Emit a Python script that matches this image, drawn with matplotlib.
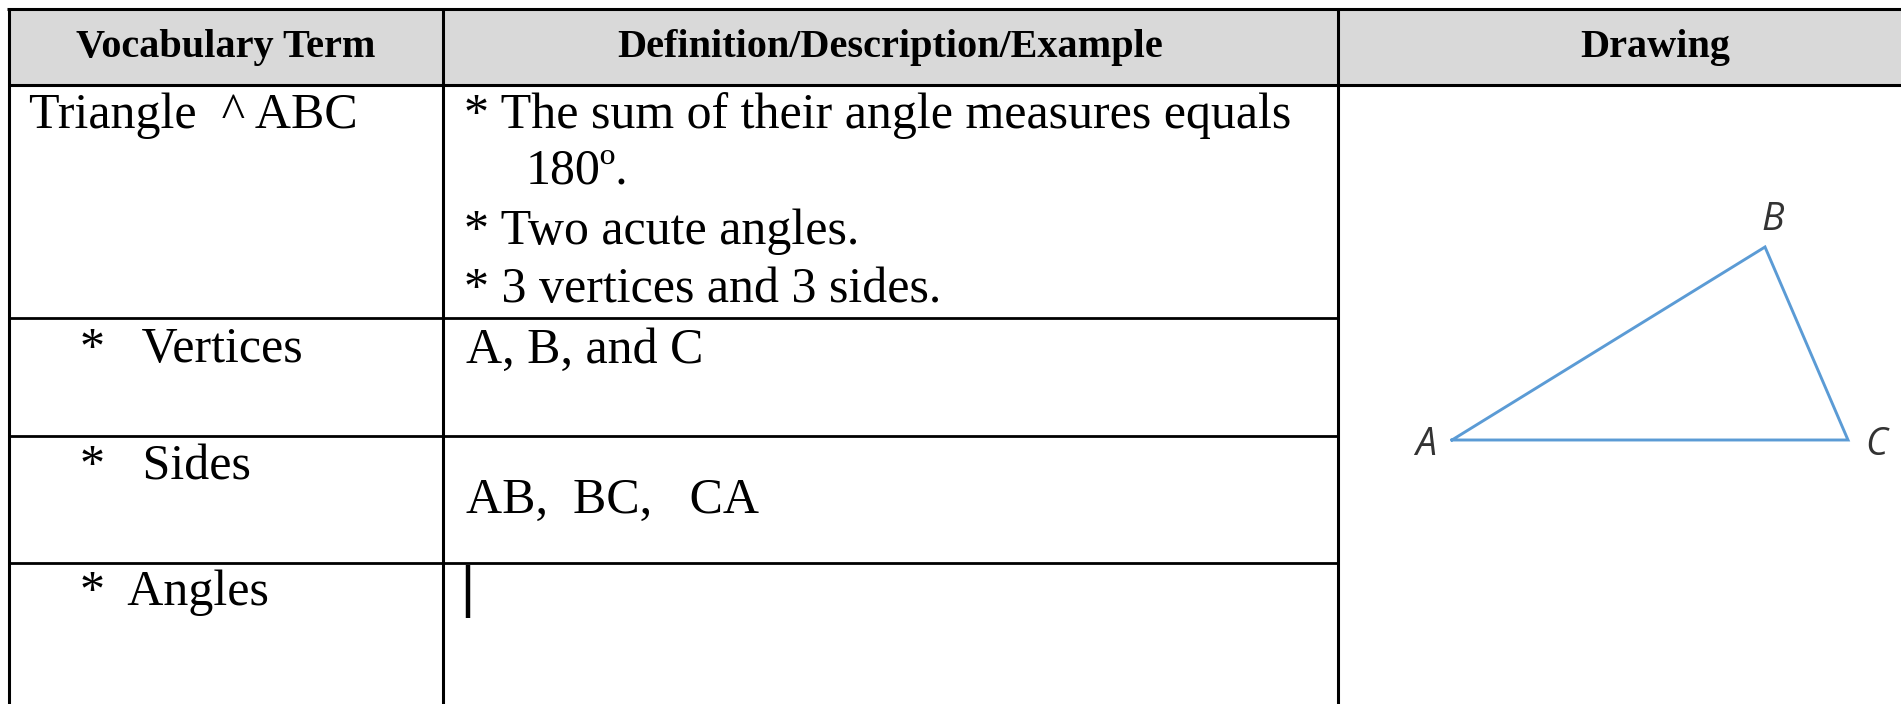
import matplotlib.pyplot as plt

# table content
headers = ["Vocabulary Term", "Definition/Description/Example", "Drawing"]
terms = ["Triangle  ^ ABC", "*   Vertices", "*   Sides", "*  Angles"]
definitions = [
    ["* The sum of their angle measures equals", "180º.",
     "* Two acute angles.", "* 3 vertices and 3 sides."],
    ["A, B, and C"],
    ["AB,  BC,   CA"],
    [],
]
# triangle drawing (pixel units of the page)
tri_names = ["A", "B", "C"]
tri_x = [1452, 1765, 1848]
tri_y = [440, 247, 440]

# layout, pixels
W, H = 1901, 704
col_edges = [8.5, 443, 1338, 1972]
row_edges = [8.5, 84.5, 318, 436, 563, 704]
header_gray = "#d9d9d9"
serif = "Liberation Serif"
body_size = 36

fig = plt.figure(figsize=(W / 100, H / 100), dpi=100)
ax = fig.add_axes([0, 0, 1, 1])
ax.set_xlim(0, W)
ax.set_ylim(H, 0)
ax.axis("off")

# header band
ax.fill_between([col_edges[0], col_edges[-1]], row_edges[0], row_edges[1],
                color=header_gray, lw=0, zorder=0)

lw_outer = 2.2
lw_inner = 2.0
ax.plot([col_edges[0] - 1.5, col_edges[-1]], [row_edges[0]] * 2, color="k",
        lw=lw_outer, solid_capstyle="butt")
ax.plot([col_edges[0], col_edges[-1]], [row_edges[1]] * 2, color="k",
        lw=lw_outer, solid_capstyle="butt")
for y in row_edges[2:-1]:
    ax.plot([col_edges[0], col_edges[2]], [y, y], color="k", lw=lw_inner,
            solid_capstyle="butt")
for x in col_edges[:3]:
    ax.plot([x, x], [row_edges[0], H], color="k", lw=lw_outer,
            solid_capstyle="butt")

# header text
for i, h in enumerate(headers):
    cx = (col_edges[i] + col_edges[i + 1]) / 2
    ax.text(cx, 57, h, ha="center", va="baseline", fontsize=29,
            fontweight="bold", family=serif)

# first column
term_x = [29, 80, 80, 80]
term_base = [128, 362, 480, 605]
for t, x, y in zip(terms, term_x, term_base):
    ax.text(x, y, t, ha="left", va="baseline", fontsize=body_size, family=serif)

# second column
def_x = [[464, 526, 464, 464], [466], [466], []]
def_base = [[128, 184, 244, 302], [363], [513], []]
for lines, xs, bases in zip(definitions, def_x, def_base):
    for s, x, y in zip(lines, xs, bases):
        ax.text(x, y, s, ha="left", va="baseline", fontsize=body_size,
                family=serif)

# text cursor in the empty Angles cell
ax.plot([468, 468], [565, 618], color="k", lw=3.2, solid_capstyle="butt")

# drawing
ax.plot(tri_x + tri_x[:1], tri_y + tri_y[:1], color="#5b9bd5", lw=2.1,
        solid_joinstyle="miter")
lab_dx = [-26, 8, 28]
lab_dy = [5, -27, 5]
for n, x, y, dx, dy in zip(tri_names, tri_x, tri_y, lab_dx, lab_dy):
    ax.text(x + dx, y + dy, n, ha="center", va="center", fontsize=27,
            style="italic", family="Open Sans", color="#333333")

fig.savefig("out.png", dpi=100)
